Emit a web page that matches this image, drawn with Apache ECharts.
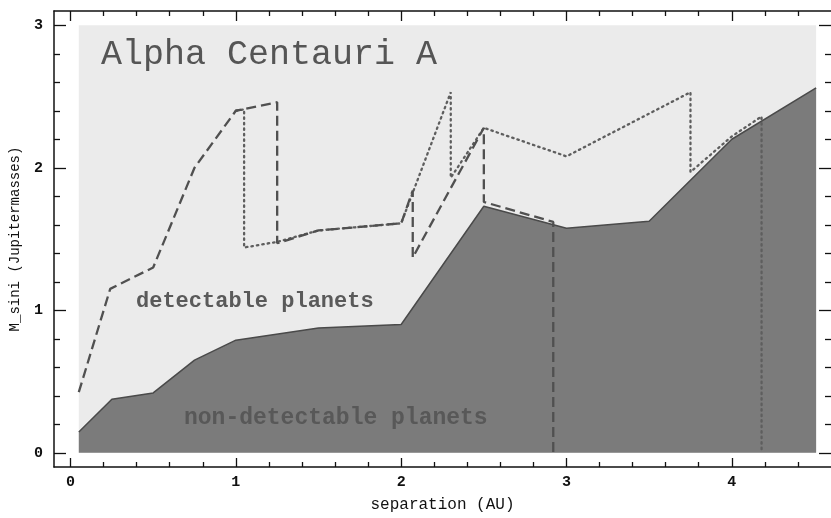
<!DOCTYPE html>
<html>
<head>
<meta charset="utf-8">
<script src="https://cdn.jsdelivr.net/npm/echarts@6/dist/echarts.min.js"></script>
<style>
  html, body { margin: 0; padding: 0; background: #fff; }
</style>
</head>
<body>
<div id="chart" style="width: 831px; height: 518px;"></div>
<script>
// upper edge of the non-detectable region
var limitSolid = [
  [0.05, 0.145], [0.25, 0.375], [0.5, 0.42], [0.75, 0.65], [1.0, 0.79],
  [1.5, 0.875], [2.0, 0.9], [2.5, 1.73], [3.0, 1.575], [3.5, 1.625],
  [4.0, 2.2], [4.51, 2.56]
]
// dashed limit
var limitDashed = [
  [0.05, 0.425], [0.24, 1.15], [0.5, 1.3], [0.75, 2.0], [1.0, 2.4],
  [1.25, 2.46], [1.25, 1.47], [1.5, 1.56], [2.0, 1.61], [2.07, 1.84],
  [2.07, 1.37], [2.5, 2.28], [2.5, 1.76], [2.92, 1.62], [2.92, 0]
]
// dotted limit
var limitDotted = [
  [1.0, 2.4], [1.05, 2.41], [1.05, 1.44], [1.25, 1.48], [1.5, 1.56],
  [2.0, 1.61], [2.3, 2.53], [2.3, 1.93], [2.5, 2.28], [3.0, 2.08],
  [3.75, 2.53], [3.75, 1.97], [4.0, 2.22], [4.18, 2.36], [4.18, 0]
]
var plotBox = [[0.05, 0], [4.51, 3]]

var xMajor = [0, 1, 2, 3, 4]
var xMinor = [0.2, 0.4, 0.6, 0.8, 1.2, 1.4, 1.6, 1.8, 2.2, 2.4, 2.6, 2.8,
  3.2, 3.4, 3.6, 3.8, 4.2, 4.4]
var yMajor = [0, 1, 2, 3]
var yMinor = [0.2, 0.4, 0.6, 0.8, 1.2, 1.4, 1.6, 1.8, 2.2, 2.4, 2.6, 2.8]

var mono = '"Liberation Mono", "DejaVu Sans Mono", monospace'

function xAx (pos, ticks, len, withLine, withLabel) {
  return {
    type: 'value',
    min: -0.1,
    max: 4.6,
    position: pos,
    axisLine: { show: withLine, onZero: false, lineStyle: { color: '#111', width: 1.5 } },
    axisTick: { show: true, inside: true, length: len, customValues: ticks, lineStyle: { color: '#111', width: 1.3 } },
    axisLabel: withLabel
      ? { show: true, customValues: ticks, margin: 8, color: '#111', fontFamily: mono, fontWeight: 'bold', fontSize: 15 }
      : { show: false },
    splitLine: { show: false }
  }
}
function yAx (pos, ticks, len, withLine, withLabel) {
  return {
    type: 'value',
    min: -0.1,
    max: 3.1,
    position: pos,
    axisLine: { show: withLine, onZero: false, lineStyle: { color: '#111', width: 1.5 } },
    axisTick: { show: true, inside: true, length: len, customValues: ticks, lineStyle: { color: '#111', width: 1.3 } },
    axisLabel: withLabel
      ? { show: true, customValues: ticks, margin: 11, color: '#111', fontFamily: mono, fontWeight: 'bold', fontSize: 15 }
      : { show: false },
    splitLine: { show: false }
  }
}

var chart = echarts.init(document.getElementById('chart'))

var xAxes = [
  xAx('bottom', xMajor, 9, true, true),
  xAx('bottom', xMinor, 5, false, false),
  xAx('top', xMajor, 10, true, false),
  xAx('top', xMinor, 5, false, false)
]
xAxes[0].name = 'separation (AU)'
xAxes[0].nameLocation = 'middle'
xAxes[0].nameGap = 30
xAxes[0].nameTextStyle = { fontFamily: mono, fontSize: 16, color: '#111' }

var yAxes = [
  yAx('left', yMajor, 12, true, true),
  yAx('left', yMinor, 6, false, false),
  yAx('right', yMajor, 12, false, false),
  yAx('right', yMinor, 6, false, false)
]
yAxes[0].name = 'M_sini (Jupitermasses)'
yAxes[0].nameLocation = 'middle'
yAxes[0].nameGap = 32
yAxes[0].nameTextStyle = { fontFamily: mono, fontSize: 14, color: '#111' }

chart.setOption({
  animation: false,
  grid: { left: 54, right: 0, top: 11, bottom: 43 },
  xAxis: xAxes,
  yAxis: yAxes,
  series: [
    {
      name: 'background',
      type: 'line',
      data: [],
      z: 1,
      silent: true,
      markArea: {
        silent: true,
        itemStyle: { color: '#ebebeb' },
        data: [[{ coord: plotBox[0] }, { coord: plotBox[1] }]]
      }
    },
    {
      name: 'non-detectable',
      type: 'line',
      data: limitSolid,
      z: 2,
      symbol: 'none',
      lineStyle: { color: '#4a4a4a', width: 1.5 },
      areaStyle: { color: '#7b7b7b', opacity: 1, origin: 0 }
    },
    {
      name: 'dotted',
      type: 'line',
      data: limitDotted,
      z: 3,
      symbol: 'none',
      lineStyle: { color: '#5e5e5e', width: 2.3, type: [1.5, 4], cap: 'round' }
    },
    {
      name: 'dashed',
      type: 'line',
      data: limitDashed,
      z: 4,
      symbol: 'none',
      lineStyle: { color: '#505050', width: 2.3, type: [10, 5] }
    }
  ],
  graphic: [
    {
      type: 'text',
      left: 101,
      top: 37,
      z: 10,
      style: { text: 'Alpha Centauri A', fontFamily: mono, fontSize: 35, fill: '#555' }
    },
    {
      type: 'text',
      left: 136,
      top: 290,
      z: 10,
      style: { text: 'detectable planets', fontFamily: mono, fontSize: 22, fontWeight: 'bold', fill: '#5a5a5a' }
    },
    {
      type: 'text',
      left: 184,
      top: 407,
      z: 10,
      style: { text: 'non-detectable planets', fontFamily: mono, fontSize: 23, fontWeight: 'bold', fill: '#585858' }
    }
  ]
})
</script>
</body>
</html>
